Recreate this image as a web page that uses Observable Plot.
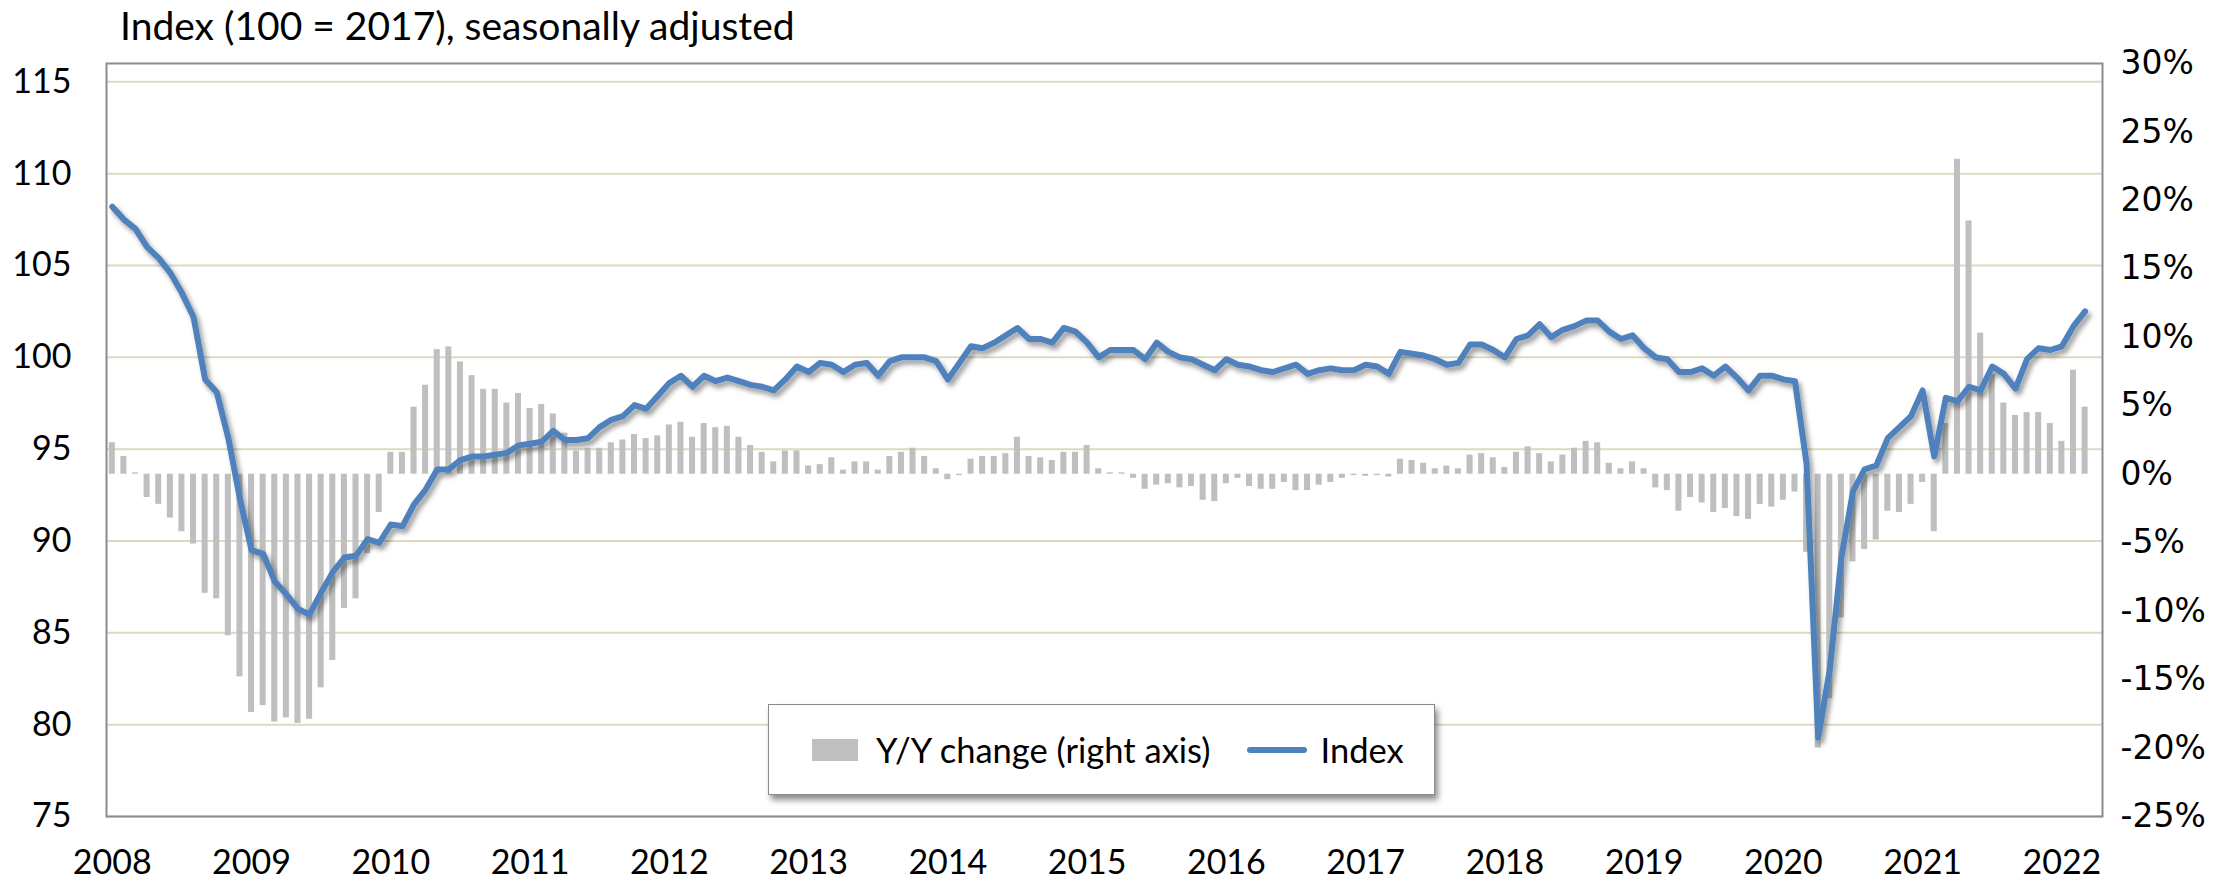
<!DOCTYPE html>
<html>
<head>
<meta charset="utf-8">
<script src="https://cdn.jsdelivr.net/npm/d3@7"></script>
<script src="https://cdn.jsdelivr.net/npm/@observablehq/plot@0.6"></script>
<style>
  html, body { margin: 0; padding: 0; background: #fff; }
  #fig { position: relative; width: 2239px; height: 881px; font-family: Lato, "Open Sans", sans-serif; color: #000; }
  #title { height: 38px; padding-top: 6px; line-height: 38px; font-size: 39px; padding-left: 120px; white-space: nowrap; }
  #chart svg { overflow: visible; }
  #legend { position: absolute; left: 768px; top: 704px; width: 667px; height: 91px; box-sizing: border-box;
            border: 1.5px solid #8a8a8a; background: #fff; box-shadow: 3px 5px 6px rgba(0,0,0,0.45);
            display: flex; align-items: center; font-size: 34.5px; white-space: nowrap; }
  .sw-bar { width: 46px; height: 22px; background: #BFBFBF; margin-left: 43px; margin-right: 18px; }
  .sw-line { width: 60px; height: 6px; border-radius: 3px; background: #4F81BD; margin-left: 36px; margin-right: 14px; }
</style>
</head>
<body>
<div id="fig">
  <div id="title">Index (100 = 2017), seasonally adjusted</div>
  <div id="chart"></div>
  <div id="legend"><div class="sw-bar"></div><span>Y/Y change (right axis)</span><div class="sw-line"></div><span>Index</span></div>
</div>
<script>
// ---- Data (monthly, Jan 2008 – Mar 2022) ----
const startYear = 2008;
const yearLabels = [2008, 2009, 2010, 2011, 2012, 2013, 2014, 2015, 2016, 2017, 2018, 2019, 2020, 2021, 2022];

// Index (100 = 2017), seasonally adjusted — left axis
const indexValues = [
  108.2, 107.5, 107.0, 106.0, 105.4, 104.6, 103.5, 102.2, 98.8, 98.1, 95.6, 92.3,   // 2008
  89.5, 89.3, 87.8, 87.1, 86.3, 86.0, 87.2, 88.3, 89.1, 89.2, 90.1, 89.9,           // 2009
  90.9, 90.8, 92.0, 92.8, 93.9, 93.9, 94.4, 94.6, 94.6, 94.7, 94.8, 95.2,           // 2010
  95.3, 95.4, 96.0, 95.5, 95.5, 95.6, 96.2, 96.6, 96.8, 97.4, 97.2, 97.9,           // 2011
  98.6, 99.0, 98.4, 99.0, 98.7, 98.9, 98.7, 98.5, 98.4, 98.2, 98.8, 99.5,           // 2012
  99.2, 99.7, 99.6, 99.2, 99.6, 99.7, 99.0, 99.8, 100.0, 100.0, 100.0, 99.8,        // 2013
  98.8, 99.7, 100.6, 100.5, 100.8, 101.2, 101.6, 101.0, 101.0, 100.8, 101.6, 101.4, // 2014
  100.8, 100.0, 100.4, 100.4, 100.4, 99.9, 100.8, 100.3, 100.0, 99.9, 99.6, 99.3,   // 2015
  99.9, 99.6, 99.5, 99.3, 99.2, 99.4, 99.6, 99.1, 99.3, 99.4, 99.3, 99.3,           // 2016
  99.6, 99.5, 99.1, 100.3, 100.2, 100.1, 99.9, 99.6, 99.7, 100.7, 100.7, 100.4,     // 2017
  100.0, 101.0, 101.2, 101.8, 101.1, 101.5, 101.7, 102.0, 102.0, 101.4, 101.0, 101.2, // 2018
  100.5, 100.0, 99.9, 99.2, 99.2, 99.4, 99.0, 99.5, 98.9, 98.2, 99.0, 99.0,         // 2019
  98.8, 98.7, 94.2, 79.3, 83.0, 89.1, 92.7, 93.9, 94.1, 95.6, 96.2, 96.8,           // 2020
  98.2, 94.6, 97.8, 97.6, 98.4, 98.2, 99.5, 99.1, 98.3, 99.9, 100.5, 100.4,         // 2021
  100.6, 101.7, 102.5                                                               // 2022
];

// Y/Y change, % — right axis
const yoyChange = [
  2.3, 1.3, 0.1, -1.7, -2.2, -3.2, -4.2, -5.1, -8.7, -9.1, -11.8, -14.8,            // 2008
  -17.4, -16.9, -18.1, -17.8, -18.2, -17.9, -15.6, -13.6, -9.8, -9.1, -5.8, -2.8,   // 2009
  1.6, 1.6, 4.9, 6.5, 9.1, 9.3, 8.2, 7.2, 6.2, 6.2, 5.2, 5.9,                       // 2010
  4.8, 5.1, 4.4, 3.0, 1.7, 1.9, 1.9, 2.3, 2.5, 2.9, 2.6, 2.8,                       // 2011
  3.6, 3.8, 2.7, 3.7, 3.4, 3.5, 2.7, 2.1, 1.6, 0.9, 1.7, 1.7,                       // 2012
  0.6, 0.7, 1.2, 0.3, 0.9, 0.9, 0.3, 1.3, 1.6, 1.9, 1.3, 0.4,                       // 2013
  -0.4, -0.1, 1.1, 1.3, 1.3, 1.5, 2.7, 1.3, 1.2, 1.0, 1.6, 1.6,                     // 2014
  2.1, 0.4, 0.1, 0.1, -0.3, -1.1, -0.8, -0.7, -1.0, -0.9, -1.9, -2.0,               // 2015
  -0.7, -0.3, -0.9, -1.1, -1.1, -0.6, -1.2, -1.2, -0.8, -0.6, -0.3, -0.1,           // 2016
  -0.15, -0.1, -0.2, 1.1, 1.0, 0.8, 0.4, 0.6, 0.4, 1.4, 1.5, 1.2,                   // 2017
  0.5, 1.6, 2.0, 1.5, 0.9, 1.4, 1.9, 2.4, 2.3, 0.8, 0.4, 0.9,                       // 2018
  0.4, -1.0, -1.2, -2.7, -1.7, -2.1, -2.8, -2.5, -3.1, -3.3, -2.2, -2.4,            // 2019
  -1.9, -1.3, -5.7, -20.0, -16.4, -10.5, -6.4, -5.5, -4.8, -2.7, -2.8, -2.2,        // 2020
  -0.6, -4.2, 3.7, 23.0, 18.5, 10.3, 7.3, 5.2, 4.3, 4.5, 4.5, 3.7,                  // 2021
  2.4, 7.6, 4.9                                                                     // 2022
];

const leftTicks = [75, 80, 85, 90, 95, 100, 105, 110, 115];
const rightTicks = [-25, -20, -15, -10, -5, 0, 5, 10, 15, 20, 25, 30];
const leftDomain = [75, 116];
const rightDomain = [-25, 30];

// map right-axis (%) values onto the left-axis scale
const k = (leftDomain[1] - leftDomain[0]) / (rightDomain[1] - rightDomain[0]);
const toLeft = p => leftDomain[0] + (p - rightDomain[0]) * k;
const fromLeft = v => rightDomain[0] + (v - leftDomain[0]) / k;

const data = indexValues.map((v, i) => ({m: i, index: v, yoy: yoyChange[i]}));
const yearMonths = yearLabels.map(y => (y - startYear) * 12);

const chart = Plot.plot({
  width: 2239,
  height: 837,
  marginTop: 19,
  marginBottom: 65,
  marginLeft: 106,
  marginRight: 137,
  style: {fontFamily: "Lato, 'Open Sans', sans-serif", fontSize: "33px", color: "#000", background: "#fff", overflow: "visible"},
  x: {type: "linear", domain: [-0.5, indexValues.length + 0.5]},
  y: {domain: leftDomain},
  marks: [
    Plot.gridY(leftTicks, {stroke: "#DDD9C3", strokeOpacity: 1, strokeWidth: 2}),
    Plot.rect(data, {
      x1: d => d.m - 0.26, x2: d => d.m + 0.26,
      y1: () => toLeft(0), y2: d => toLeft(d.yoy),
      fill: "#BFBFBF"
    }),
    Plot.line(data, {x: "m", y: "index", stroke: "#4F81BD", strokeWidth: 6, strokeLinejoin: "round", strokeLinecap: "round"}),
    Plot.frame({stroke: "#8C8C8C", strokeWidth: 2}),
    Plot.axisY(leftTicks, {anchor: "left", tickSize: 0, tickPadding: 35, fontSize: 34, label: null}),
    Plot.axisY(rightTicks.map(toLeft), {anchor: "right", tickSize: 0, tickPadding: 18, fontSize: 33, label: null,
      fontFamily: "'DejaVu Sans', Verdana, sans-serif",
      tickFormat: v => Math.round(fromLeft(v)) + "%"}),
    Plot.axisX(yearMonths, {anchor: "bottom", tickSize: 0, tickPadding: 33, fontSize: 34, label: null,
      tickFormat: m => String(startYear + m / 12)})
  ]
});

// drop shadow under the index line (as in the original)
const ns = "http://www.w3.org/2000/svg";
const defs = document.createElementNS(ns, "defs");
defs.innerHTML = '<filter id="lineShadow" x="-5%" y="-5%" width="110%" height="120%"><feDropShadow dx="3" dy="4" stdDeviation="2.5" flood-color="#000" flood-opacity="0.4"/></filter>';
chart.insertBefore(defs, chart.firstChild);
const lineG = chart.querySelector('g[aria-label="line"]');
if (lineG) lineG.setAttribute("filter", "url(#lineShadow)");

document.getElementById("chart").appendChild(chart);
</script>
</body>
</html>
